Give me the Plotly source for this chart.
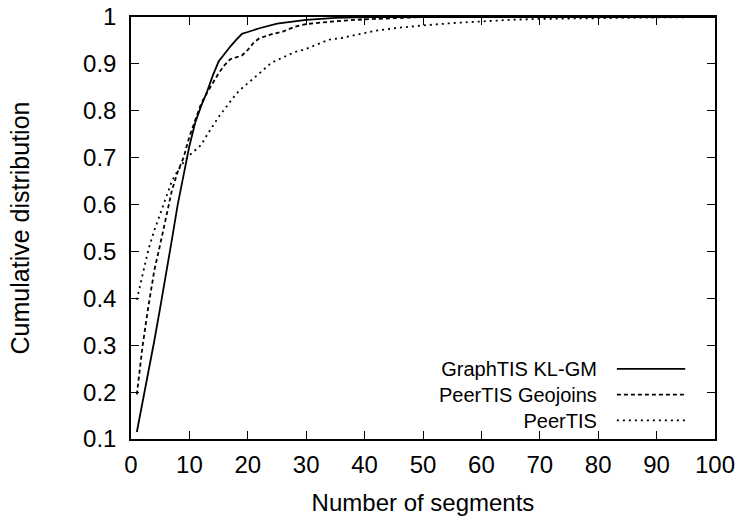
import plotly.graph_objects as go

# ── Data ─────────────────────────────────────────────────────────────────────
kl_x = [1, 2, 3, 4, 5, 6, 7, 8, 9, 10, 11, 12, 13, 14, 15, 16, 17, 18, 19, 20,
        22, 25, 30, 35, 40, 50, 60, 70, 80, 90, 100]
kl_y = [0.115, 0.18, 0.24, 0.31, 0.38, 0.45, 0.525, 0.60, 0.665, 0.725, 0.775,
        0.81, 0.84, 0.875, 0.905, 0.922, 0.937, 0.951, 0.964, 0.968,
        0.976, 0.986, 0.994, 0.998, 1.0, 1.0, 1.0, 1.0, 1.0, 1.0, 1.0]

geo_x = [1, 2, 3, 4, 5, 6, 7, 8, 9, 10, 11, 12, 13, 14, 15, 16, 17, 18, 19, 20,
         21, 22, 24, 26, 28, 30, 35, 40, 45, 50, 60, 70, 80, 90, 100]
geo_y = [0.195, 0.30, 0.385, 0.46, 0.515, 0.575, 0.63, 0.67, 0.70, 0.745, 0.782,
         0.815, 0.838, 0.86, 0.88, 0.897, 0.91, 0.914, 0.918, 0.93,
         0.945, 0.955, 0.963, 0.969, 0.979, 0.985, 0.991, 0.995, 0.998, 1.0,
         1.0, 1.0, 1.0, 1.0, 1.0]

peer_x = [1, 2, 3, 4, 5, 6, 7, 8, 9, 10, 11, 12, 13, 14, 15, 16, 17, 18, 19, 20,
          21, 22, 23, 24, 25, 26, 27, 28, 30, 32, 34, 36, 38, 40, 42, 45, 48,
          50, 55, 60, 65, 70, 80, 90, 100]
peer_y = [0.397, 0.45, 0.505, 0.545, 0.58, 0.615, 0.65, 0.672, 0.69, 0.705,
          0.715, 0.727, 0.748, 0.768, 0.787, 0.803, 0.82, 0.836, 0.848, 0.858,
          0.87, 0.88, 0.891, 0.902, 0.908, 0.914, 0.92, 0.925, 0.932, 0.942,
          0.952, 0.955, 0.96, 0.966, 0.971, 0.976, 0.98, 0.982, 0.987, 0.991,
          0.994, 0.996, 0.998, 0.999, 1.0]

x_ticks = [0, 10, 20, 30, 40, 50, 60, 70, 80, 90, 100]
y_ticks = [0.1, 0.2, 0.3, 0.4, 0.5, 0.6, 0.7, 0.8, 0.9, 1.0]
y_tick_text = ["0.1", "0.2", "0.3", "0.4", "0.5", "0.6", "0.7", "0.8", "0.9", "1"]

series = [
    ("GraphTIS KL-GM", kl_x, kl_y, "solid"),
    ("PeerTIS Geojoins", geo_x, geo_y, "4px,3px"),
    ("PeerTIS", peer_x, peer_y, "2px,4px"),
]

FONT = "Liberation Sans, Arial, sans-serif"
FSIZE = 24
KEY_SIZE = 20
BLACK = "#000000"

fig = go.Figure()
for name, xs, ys, dash in series:
    fig.add_trace(go.Scatter(
        x=xs, y=ys, mode="lines", name=name,
        line=dict(color=BLACK, width=1.8, dash=dash),
        showlegend=False,
    ))

# gnuplot-style key: right-aligned labels, sample lines to their right
fig.add_annotation(
    xref="paper", yref="paper", x=0.800, y=0.105,
    text="<br>".join(s[0] for s in series), align="right",
    showarrow=False, xanchor="right", yanchor="middle", borderpad=0,
    font=dict(size=KEY_SIZE, color=BLACK, family=FONT),
)
key_rows = [0.166, 0.105, 0.044]
for (name, _, _, dash), ky in zip(series, key_rows):
    fig.add_shape(
        type="line", xref="paper", yref="paper",
        x0=0.832, x1=0.949, y0=ky, y1=ky,
        line=dict(color=BLACK, width=1.8, dash=dash),
    )

axis_common = dict(
    showgrid=False, zeroline=False, automargin=False,
    showline=True, linecolor=BLACK, linewidth=1.5, mirror="allticks",
    ticks="inside", ticklen=8, tickwidth=1, tickcolor=BLACK,
    tickfont=dict(size=FSIZE, color=BLACK, family=FONT),
)

fig.update_layout(
    width=742, height=520,
    paper_bgcolor="white", plot_bgcolor="white",
    font=dict(family=FONT, color=BLACK, size=FSIZE),
    margin=dict(l=131, r=27, t=17, b=81),
    showlegend=False,
    xaxis=dict(
        **axis_common, range=[0, 100], tickvals=x_ticks,
        ticklabelstandoff=3,
        title=dict(text="Number of segments", font=dict(size=FSIZE), standoff=18),
    ),
    yaxis=dict(
        **axis_common, range=[0.1, 1.0], tickvals=y_ticks, ticktext=y_tick_text,
        ticklabelstandoff=8,
        title=dict(text="Cumulative distribution", font=dict(size=25), standoff=46),
    ),
)

# drop the browser's default 8px body margin so the figure sits at (0, 0)
fig.write_html(
    "out.html",
    config={"displayModeBar": False},
    post_script="document.body.style.margin = '0';",
)
